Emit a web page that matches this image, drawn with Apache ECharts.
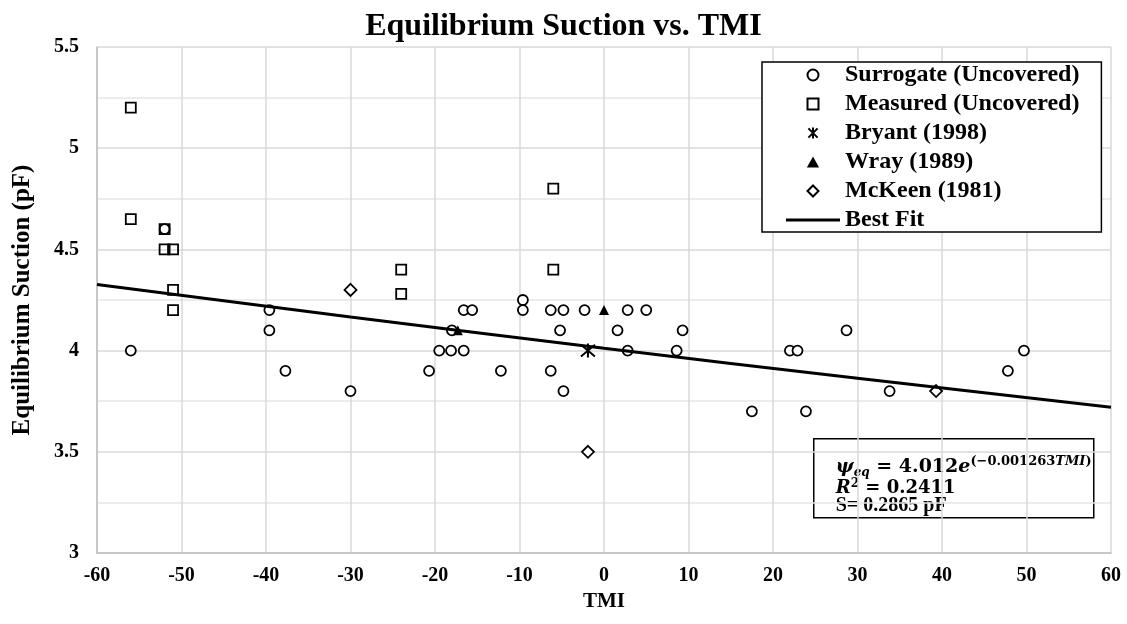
<!DOCTYPE html>
<html>
<head>
<meta charset="utf-8">
<title>Equilibrium Suction vs. TMI</title>
<script src="https://cdn.jsdelivr.net/npm/echarts@6/dist/echarts.min.js"></script>
<style>
  html, body { margin: 0; padding: 0; background: #fff; }
  #chart { width: 1127px; height: 624px; }
</style>
</head>
<body>
<div id="chart"></div>
<script>
// Surrogate (uncovered) sites: TMI and equilibrium suction (pF)
const surrogateTMI = [-52, -56, -39.6, -39.6, -37.7, -30, -20.7, -19.5, -18.1, -16.6, -18.0, -16.6, -15.6,
  -12.2, -9.6, -9.6, -6.3, -4.8, -2.3, 2.8, 5.0, -5.2, 1.6, 9.3, 2.8, 8.6, -6.3, -4.8,
  17.5, 22.0, 22.9, 28.7, 23.9, 33.8, 47.8, 49.7];
const surrogatePF = [4.6, 4.0, 4.2, 4.1, 3.9, 3.8, 3.9, 4.0, 4.0, 4.0, 4.1, 4.2, 4.2,
  3.9, 4.25, 4.2, 4.2, 4.2, 4.2, 4.2, 4.2, 4.1, 4.1, 4.1, 4.0, 4.0, 3.9, 3.8,
  3.7, 4.0, 4.0, 4.1, 3.7, 3.8, 3.9, 4.0];

// Measured (uncovered) sites
const measuredTMI = [-56, -56, -52, -52, -51, -51, -51, -24, -24, -6, -6];
const measuredPF = [5.2, 4.65, 4.6, 4.5, 4.5, 4.3, 4.2, 4.4, 4.28, 4.8, 4.4];

// Published values
const bryantTMI = [-1.9];
const bryantPF = [4.0];
const wrayTMI = [0, -17.3];
const wrayPF = [4.2, 4.1];
const mckeenTMI = [-30, -1.9, 39.3];
const mckeenPF = [4.3, 3.5, 3.8];

// Best-fit curve, psi = 4.012 e^(-0.001263 TMI)
const fitTMI = [-60, -30, 0, 30, 60];
const fitPF = [4.327, 4.166, 4.012, 3.863, 3.720];

const pairs = (xs, ys) => xs.map((x, i) => [x, ys[i]]);

const serif = 'Liberation Serif';
const mathFont = 'DejaVu Serif';
const black = '#000';

// Marker outlines as paths so the legend keeps their proportions
const SQUARE = 'path://M0,0H10V10H0Z';
const TRIANGLE = 'path://M5,0L10,9L0,9Z';
const DIAMOND = 'path://M5,0L10,5L5,10L0,5Z';
const STAR = 'path://M0,0L10,10M10,0L0,10M5,-1L5,11';
const BAR = 'path://M0,0H56V3H0Z';

const hollow = { color: 'rgba(255,255,255,0)', borderColor: black, borderWidth: 1.8, opacity: 1 };

const chart = echarts.init(document.getElementById('chart'), null, { renderer: 'canvas' });

const option = {
  backgroundColor: '#fff',
  animation: false,
  title: {
    text: 'Equilibrium Suction vs. TMI',
    left: 'center',
    top: 6,
    textStyle: { fontFamily: serif, fontWeight: 'bold', fontSize: 32, color: black }
  },
  grid: { left: 97, right: 16, top: 47, bottom: 71, containLabel: false },
  xAxis: {
    type: 'value',
    min: -60, max: 60, interval: 10,
    name: 'TMI',
    nameLocation: 'middle',
    nameGap: 34,
    nameTextStyle: { fontFamily: serif, fontWeight: 'bold', fontSize: 21, color: black },
    axisLine: { show: true, onZero: false, lineStyle: { color: '#bfbfbf', width: 1.5 } },
    axisTick: { show: false },
    axisLabel: { margin: 13, fontFamily: serif, fontWeight: 'bold', fontSize: 20, color: black },
    splitLine: { show: true, lineStyle: { color: '#d9d9d9', width: 1.5 } }
  },
  yAxis: {
    type: 'value',
    min: 3, max: 5.5, interval: 0.5,
    name: 'Equilibrium Suction (pF)',
    nameLocation: 'middle',
    nameGap: 62,
    nameTextStyle: { fontFamily: serif, fontWeight: 'bold', fontSize: 25, color: black },
    axisLine: { show: true, onZero: false, lineStyle: { color: '#bfbfbf', width: 1.5 } },
    axisTick: { show: false },
    axisLabel: { margin: 18, fontFamily: serif, fontWeight: 'bold', fontSize: 20, color: black },
    splitLine: { show: true, lineStyle: { color: '#d9d9d9', width: 1.5 } },
    minorTick: { show: false, splitNumber: 2 },
    minorSplitLine: { show: true, lineStyle: { color: '#e6e6e6', width: 1.5 } }
  },
  legend: {
    orient: 'vertical',
    left: 762,
    top: 62,
    itemWidth: 54,
    itemHeight: 11,
    itemGap: 5,
    padding: [1, 22, 0, 24],
    borderColor: black,
    borderWidth: 1.5,
    backgroundColor: '#fff',
    symbolKeepAspect: true,
    textStyle: { fontFamily: serif, fontWeight: 'bold', fontSize: 24, lineHeight: 22, color: black },
    data: [
      { name: 'Surrogate (Uncovered)' },
      { name: 'Measured (Uncovered)' },
      { name: 'Bryant (1998)' },
      { name: 'Wray (1989)' },
      { name: 'McKeen (1981)' },
      { name: 'Best Fit', icon: BAR }
    ]
  },
  series: [
    {
      name: 'Surrogate (Uncovered)',
      type: 'scatter',
      symbol: 'circle',
      symbolSize: 10,
      itemStyle: { color: '#fff', borderColor: black, borderWidth: 1.8, opacity: 1 },
      data: pairs(surrogateTMI, surrogatePF),
      z: 3
    },
    {
      name: 'Measured (Uncovered)',
      type: 'scatter',
      symbol: SQUARE,
      symbolSize: 10,
      itemStyle: hollow,
      data: pairs(measuredTMI, measuredPF),
      z: 3
    },
    {
      name: 'Bryant (1998)',
      type: 'scatter',
      symbol: STAR,
      symbolSize: 14,
      itemStyle: { color: 'rgba(255,255,255,0)', borderColor: black, borderWidth: 2, opacity: 1 },
      data: pairs(bryantTMI, bryantPF),
      z: 3
    },
    {
      name: 'Wray (1989)',
      type: 'scatter',
      symbol: TRIANGLE,
      symbolSize: 10,
      itemStyle: { color: black, opacity: 1 },
      data: pairs(wrayTMI, wrayPF),
      z: 3
    },
    {
      name: 'McKeen (1981)',
      type: 'scatter',
      symbol: DIAMOND,
      symbolSize: 12,
      itemStyle: { color: '#fff', borderColor: black, borderWidth: 1.8, opacity: 1 },
      data: pairs(mckeenTMI, mckeenPF),
      z: 3
    },
    {
      name: 'Best Fit',
      type: 'line',
      symbol: 'none',
      smooth: true,
      lineStyle: { color: black, width: 3 },
      itemStyle: { color: black },
      data: pairs(fitTMI, fitPF),
      z: 4
    }
  ],
  graphic: [
    {
      type: 'group',
      left: 813,
      top: 438,
      z: 10,
      children: [
        {
          type: 'rect',
          shape: { x: 0, y: 0, width: 280, height: 79 },
          style: { fill: '#fff', stroke: black, lineWidth: 1.5 }
        },
        {
          type: 'text',
          x: 22, y: 28,
          style: {
            text: '{it|ψ}{sub|eq}{b| = 4.012}{it|e}{sup|(−0.001263}{supi|TMI}{sup|)}',
            verticalAlign: 'middle',
            rich: {
              it: { fontFamily: mathFont, fontStyle: 'italic', fontWeight: 'bold', fontSize: 19, lineHeight: 24, fill: black },
              b: { fontFamily: mathFont, fontWeight: 'bold', fontSize: 19, lineHeight: 24, fill: black },
              sub: { fontFamily: mathFont, fontStyle: 'italic', fontWeight: 'bold', fontSize: 12, lineHeight: 12, verticalAlign: 'bottom', fill: black },
              sup: { fontFamily: mathFont, fontWeight: 'bold', fontSize: 13, lineHeight: 12, verticalAlign: 'top', fill: black },
              supi: { fontFamily: mathFont, fontStyle: 'italic', fontWeight: 'bold', fontSize: 13, lineHeight: 12, verticalAlign: 'top', fill: black }
            }
          }
        },
        {
          type: 'text',
          x: 22, y: 50,
          style: {
            text: '{it|R}{sup|2}{b| = 0.2411}',
            verticalAlign: 'middle',
            rich: {
              it: { fontFamily: mathFont, fontStyle: 'italic', fontWeight: 'bold', fontSize: 18, lineHeight: 22, fill: black },
              b: { fontFamily: mathFont, fontWeight: 'bold', fontSize: 18, lineHeight: 22, fill: black },
              sup: { fontFamily: mathFont, fontWeight: 'bold', fontSize: 12, lineHeight: 12, verticalAlign: 'top', fill: black }
            }
          }
        },
        {
          type: 'text',
          x: 22, y: 67,
          style: {
            text: 'S= 0.2865 pF',
            verticalAlign: 'middle',
            fontFamily: serif, fontWeight: 'bold', fontSize: 20, fill: black
          }
        }
      ]
    }
  ]
};

chart.setOption(option);
</script>
</body>
</html>
